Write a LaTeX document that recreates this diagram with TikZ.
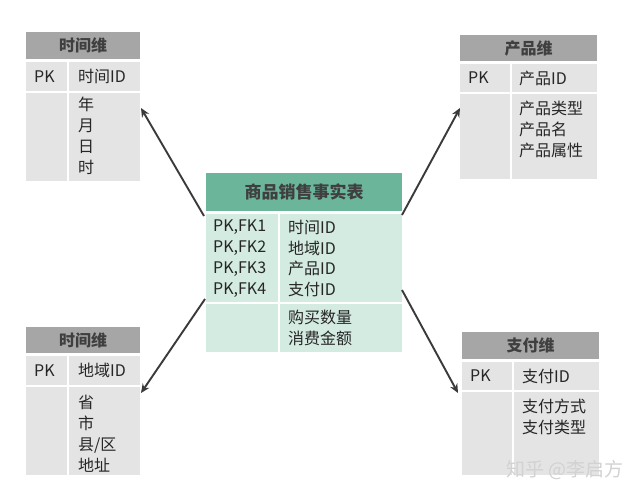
\documentclass[tikz,border=0pt]{standalone}
\usepackage{fontspec}
\newfontfamily\cjk{Noto Sans CJK SC}
\usetikzlibrary{fit,arrows.meta}
\definecolor{hdrgray}{HTML}{A6A6A6}
\definecolor{cellgray}{HTML}{E4E4E4}
\definecolor{teal}{HTML}{6BB59B}
\definecolor{lgreen}{HTML}{D4EBE1}
\definecolor{arrowc}{HTML}{3A3A3A}
\definecolor{txt}{HTML}{262626}
\definecolor{hdrtxt}{HTML}{3F3F3F}
\begin{document}
\begin{tikzpicture}[x=1pt,y=-1pt,
  cellbox/.style={inner sep=0pt,outer sep=0pt,draw=none},
  gbox/.style={cellbox,fill=cellgray},
  hbox/.style={cellbox,fill=hdrgray},
  tbox/.style={cellbox,fill=teal},
  lbox/.style={cellbox,fill=lgreen},
  hdrtext/.style={font=\cjk\fontsize{16}{18}\selectfont\bfseries,text=hdrtxt,inner sep=0pt},
  celltext/.style={font=\cjk\fontsize{16}{21}\selectfont,text=txt,inner sep=0pt,anchor=north west,align=left},
  rel/.style={draw=arrowc,line width=1.9pt,-{Stealth[length=9pt,width=8pt]}},
  wm/.style={font=\cjk\fontsize{19}{22}\selectfont,text=gray!35,inner sep=0pt}
]
\useasboundingbox (0,0) rectangle (640,499);
\fill[white] (0,0) rectangle (640,499);

% ---------- top-left: 时间维 ----------
\node[hbox,fit={(26,32)(140,59)}] (tlh) {};
\node[hdrtext] (tlht) at (tlh.center) {时间维};
\node[gbox,fit={(26,62)(67,91)}] (tlpk) {};
\node[gbox,fit={(69,62)(140,91)}] (tlid) {};
\node[gbox,fit={(26,93)(67,181)}] (tlbl) {};
\node[gbox,fit={(69,93)(140,181)}] (tlbr) {};
\node[celltext,anchor=west] (tlpkt) at (34,76.5) {PK};
\node[celltext,anchor=west] (tlidt) at (78,76.5) {时间ID};
\node[celltext] (tlbt) at (78,97) {年\\月\\日\\时};

% ---------- top-right: 产品维 ----------
\node[hbox,fit={(460,35)(597,61)}] (trh) {};
\node[hdrtext] (trht) at (trh.center) {产品维};
\node[gbox,fit={(460,64)(510,92)}] (trpk) {};
\node[gbox,fit={(512,64)(597,92)}] (trid) {};
\node[gbox,fit={(460,94)(510,179)}] (trbl) {};
\node[gbox,fit={(512,94)(597,179)}] (trbr) {};
\node[celltext,anchor=west] (trpkt) at (468,78) {PK};
\node[celltext,anchor=west] (tridt) at (519,78) {产品ID};
\node[celltext] (trbt) at (519,101) {产品类型\\产品名\\产品属性};

% ---------- center: 商品销售事实表 ----------
\node[tbox,fit={(206,173)(402,211)}] (ch) {};
\node[hdrtext,font=\cjk\fontsize{17}{20}\selectfont\bfseries] (cht) at (ch.center) {商品销售事实表};
\node[lbox,fit={(206,214)(278,302)}] (ckl) {};
\node[lbox,fit={(280,214)(402,302)}] (ckr) {};
\node[lbox,fit={(206,304)(278,352)}] (cbl) {};
\node[lbox,fit={(280,304)(402,352)}] (cbr) {};
\node[celltext,font=\cjk\fontsize{16}{20.7}\selectfont] (cklt) at (213,220) {PK,FK1\\PK,FK2\\PK,FK3\\PK,FK4};
\node[celltext,font=\cjk\fontsize{16}{20.7}\selectfont] (ckrt) at (288,220) {时间ID\\地域ID\\产品ID\\支付ID};
\node[celltext,font=\cjk\fontsize{16}{20.7}\selectfont] (cbrt) at (288,310) {购买数量\\消费金额};

% ---------- bottom-left: 时间维 (地域) ----------
\node[hbox,fit={(26,327)(140,353)}] (blh) {};
\node[hdrtext] (blht) at (blh.center) {时间维};
\node[gbox,fit={(26,356)(67,385)}] (blpk) {};
\node[gbox,fit={(69,356)(140,385)}] (blid) {};
\node[gbox,fit={(26,387)(67,475)}] (blbl) {};
\node[gbox,fit={(69,387)(140,475)}] (blbr) {};
\node[celltext,anchor=west] (blpkt) at (34,370.5) {PK};
\node[celltext,anchor=west] (blidt) at (78,370.5) {地域ID};
\node[celltext] (blbt) at (78,395) {省\\市\\县/区\\地址};

% ---------- bottom-right: 支付维 ----------
\node[hbox,fit={(462,332)(599,359)}] (brh) {};
\node[hdrtext] (brht) at (brh.center) {支付维};
\node[gbox,fit={(462,362)(512,390)}] (brpk) {};
\node[gbox,fit={(514,362)(599,390)}] (brid) {};
\node[gbox,fit={(462,392)(512,475)}] (brbl) {};
\node[gbox,fit={(514,392)(599,475)}] (brbr) {};
\node[celltext,anchor=west] (brpkt) at (470,376) {PK};
\node[celltext,anchor=west] (bridt) at (522,376) {支付ID};
\node[celltext] (brbt) at (522,399) {支付方式\\支付类型};

% ---------- connectors ----------
\coordinate (a1s) at (204,216);
\coordinate (a1e) at (141,108);
\coordinate (a2s) at (402,215);
\coordinate (a2e) at (460,108);
\coordinate (a3s) at (205,299);
\coordinate (a3e) at (141,393);
\coordinate (a4s) at (402,290);
\coordinate (a4e) at (458,393);
\draw[rel] (a1s) -- (a1e);
\draw[rel] (a2s) -- (a2e);
\draw[rel] (a3s) -- (a3e);
\draw[rel] (a4s) -- (a4e);

% ---------- watermark ----------
\node[wm,anchor=west] (wmark) at (506,470) {知乎 @李启方};
\end{tikzpicture}
\end{document}
